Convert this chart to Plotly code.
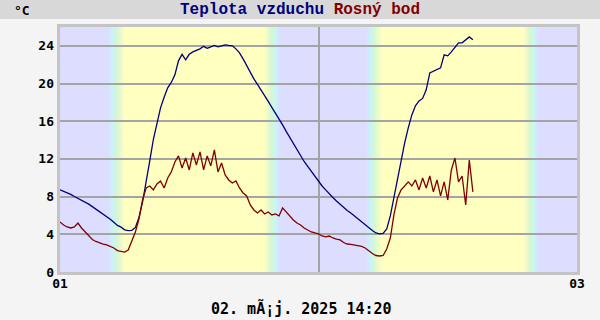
import plotly.graph_objects as go

# ---- data (hours since 01 00:00, 20-minute steps) ----
step_h = 1.0 / 3.0
temp_c = [8.71, 8.56, 8.40, 8.24, 8.01, 7.81, 7.66, 7.42, 7.20, 6.94,
          6.68, 6.40, 6.14, 5.87, 5.60, 5.27, 4.94, 4.76, 4.48, 4.40,
          4.42, 4.73, 5.79, 7.43, 9.45, 11.79, 14.06, 15.93, 17.42, 18.54,
          19.55, 20.12, 20.92, 22.41, 23.10, 22.51, 23.10, 23.36, 23.52, 23.68,
          23.95, 23.73, 23.89, 24.05, 23.89, 24.00, 24.11, 24.05, 24.00, 23.68,
          23.26, 22.62, 21.87, 21.13, 20.49, 19.91, 19.33, 18.80, 18.11, 17.47,
          16.88, 16.25, 15.61, 14.92, 14.28, 13.59, 12.96, 12.37, 11.73, 11.20,
          10.67, 10.14, 9.61, 9.13, 8.71, 8.28, 7.91, 7.54, 7.17, 6.85,
          6.53, 6.27, 5.95, 5.63, 5.31, 5.04, 4.73, 4.41, 4.14, 4.04,
          4.09, 4.57, 5.95, 7.86, 9.77, 11.89, 13.70, 15.29, 16.67, 17.63,
          18.16, 18.42, 19.33, 21.13, 21.29, 21.50, 21.66, 23.04, 22.94, 23.36,
          23.89, 24.32, 24.32, 24.64, 24.95, 24.64]
dew_c = [5.31, 4.99, 4.78, 4.67, 4.78, 5.20, 4.67, 4.25, 3.82, 3.45,
         3.24, 3.08, 2.97, 2.87, 2.71, 2.55, 2.28, 2.18, 2.12, 2.34,
         3.29, 4.25, 5.63, 7.65, 8.92, 9.13, 8.71, 9.34, 9.66, 8.92,
         9.98, 10.62, 11.68, 12.32, 11.04, 12.10, 10.83, 12.64, 11.36, 12.74,
         10.83, 12.32, 11.26, 12.95, 10.62, 11.57, 10.30, 9.77, 9.45, 9.66,
         8.92, 8.39, 8.07, 7.11, 6.58, 6.27, 6.58, 6.16, 6.37, 6.05,
         6.16, 5.95, 6.80, 6.37, 5.95, 5.52, 5.20, 4.99, 4.67, 4.46,
         4.25, 4.14, 4.04, 3.82, 3.72, 3.82, 3.61, 3.50, 3.40, 3.13,
         2.97, 2.92, 2.87, 2.81, 2.71, 2.55, 2.23, 1.96, 1.75, 1.70,
         1.75, 2.44, 3.61, 6.05, 7.86, 8.71, 9.13, 9.56, 9.13, 9.77,
         8.71, 9.98, 8.92, 10.19, 8.50, 9.77, 8.07, 9.56, 7.65, 10.83,
         12.10, 9.56, 10.19, 7.11, 11.89, 8.50]
hours = [i * step_h for i in range(len(temp_c))]

x_tick_vals = [0, 24, 48]
x_tick_text = ["01", "", "03"]
y_tick_vals = [0, 4, 8, 12, 16, 20, 24]

# twilight periods (hours): dawn start/end, dusk start/end
dawns = [(4.4, 5.9), (28.4, 29.75)]
dusks = [(19.1, 20.45), (43.15, 44.5)]

title_parts = ["Teplota vzduchu", "Rosný bod"]
unit_text = "°C"
footer_text = "02. mÃ¡j. 2025 14:20"

# ---- styling ----
NIGHT = (221, 221, 255)
CYAN = (200, 245, 248)
GREEN = (212, 250, 205)
DAY = (255, 255, 192)
stops = [(0.0, NIGHT), (0.3, CYAN), (0.6, GREEN), (1.0, DAY)]


def grad(f):
    for (f0, c0), (f1, c1) in zip(stops[:-1], stops[1:]):
        if f0 <= f <= f1:
            t = (f - f0) / (f1 - f0)
            c = [round(a + (b - a) * t) for a, b in zip(c0, c1)]
            return "rgb(%d,%d,%d)" % tuple(c)
    return "rgb(%d,%d,%d)" % DAY


L, R, T, B = 60, 23, 27, 48
W, H = 600, 320
pw, ph = W - L - R, H - T - B


def px_x(px):
    return (px - L) / pw


def px_y(py):
    return (H - B - py) / ph


shapes = []
# header bar
shapes.append(dict(type="rect", xref="paper", yref="paper", layer="below",
                   x0=px_x(0), x1=px_x(W), y0=px_y(19), y1=px_y(0),
                   fillcolor="#d8d8d8", line_width=0))
# frame around plot
shapes.append(dict(type="rect", xref="paper", yref="paper", layer="below",
                   x0=px_x(L - 3), x1=px_x(W - R + 3), y0=px_y(H - B + 3), y1=px_y(T - 3),
                   fillcolor="#c4c4c4", line_width=0))
# night background
shapes.append(dict(type="rect", xref="x", yref="paper", layer="below",
                   x0=0, x1=48, y0=0, y1=1, fillcolor="rgb(%d,%d,%d)" % NIGHT, line_width=0))
# day bands
for (d0, d1), (s0, s1) in zip(dawns, dusks):
    shapes.append(dict(type="rect", xref="x", yref="paper", layer="below",
                       x0=d1, x1=s0, y0=0, y1=1, fillcolor="rgb(%d,%d,%d)" % DAY, line_width=0))
    n = 16
    for i in range(n):
        f = (i + 0.5) / n
        shapes.append(dict(type="rect", xref="x", yref="paper", layer="below",
                           x0=d0 + (d1 - d0) * i / n, x1=d0 + (d1 - d0) * (i + 1) / n + 0.02,
                           y0=0, y1=1, fillcolor=grad(f), line_width=0))
        shapes.append(dict(type="rect", xref="x", yref="paper", layer="below",
                           x0=s0 + (s1 - s0) * i / n, x1=s0 + (s1 - s0) * (i + 1) / n + 0.02,
                           y0=0, y1=1, fillcolor=grad(1 - f), line_width=0))

fig = go.Figure()
fig.add_trace(go.Scatter(x=hours, y=temp_c, mode="lines",
                         line=dict(color="#000080", width=1.3), name=title_parts[0]))
fig.add_trace(go.Scatter(x=hours, y=dew_c, mode="lines",
                         line=dict(color="#800000", width=1.3), name=title_parts[1]))

title_html = ("<span style='color:#000080'>%s</span> <span style='color:#800000'>%s</span>"
              % tuple(title_parts))

annotations = [
    dict(xref="paper", yref="paper", x=px_x(300), y=px_y(10), text="<b>%s</b>" % title_html,
         showarrow=False, xanchor="center", yanchor="middle",
         font=dict(family="Liberation Mono", size=16)),
    dict(xref="paper", yref="paper", x=px_x(12), y=px_y(10), text="<b>%s</b>" % unit_text,
         showarrow=False, xanchor="left", yanchor="middle",
         font=dict(family="DejaVu Sans Mono", size=13, color="black")),
    dict(xref="paper", yref="paper", x=px_x(301), y=px_y(308), text="<b>%s</b>" % footer_text,
         showarrow=False, xanchor="center", yanchor="middle",
         font=dict(family="DejaVu Sans Mono", size=15, color="black")),
]

fig.update_layout(
    width=W, height=H, autosize=False,
    margin=dict(l=L, r=R, t=T, b=B, pad=0),
    paper_bgcolor="#f4f4f4", plot_bgcolor="rgb(%d,%d,%d)" % NIGHT,
    showlegend=False, shapes=shapes, annotations=annotations,
    xaxis=dict(range=[0, 48], tickvals=x_tick_vals, ticktext=x_tick_text,
               showgrid=True, gridcolor="#a4a4a4", gridwidth=2, zeroline=False,
               showline=False, ticks="",
               tickfont=dict(family="DejaVu Sans Mono", size=13, color="black", weight="bold"),
               ticklabelstandoff=2),
    yaxis=dict(range=[0, 26], tickvals=y_tick_vals, showgrid=True, gridcolor="#a4a4a4",
               gridwidth=2, zeroline=False, showline=False, ticks="",
               tickfont=dict(family="DejaVu Sans Mono", size=13, color="black", weight="bold"),
               ticklabelstandoff=5),
)

fig.write_html("out.html", config={"displayModeBar": False},
               post_script="document.body.style.margin='0px';")
